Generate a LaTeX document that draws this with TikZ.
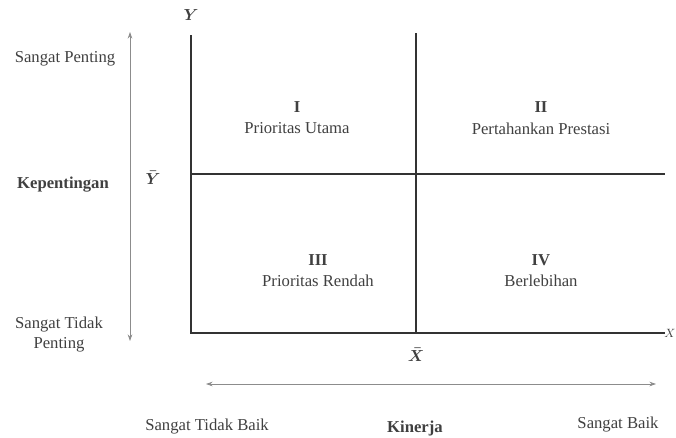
\documentclass[tikz,border=0pt]{standalone}
\usepackage{fontspec}
\setmainfont{Liberation Serif}
\tikzset{every picture/.style={line width=0.75pt}}
\tikzset{
  axisline/.style={draw=black!80, line width=1.8pt},
  scalearrow/.style={draw=black!45, line width=0.6pt, {Stealth[length=5pt,width=3.5pt]}-{Stealth[length=5pt,width=3.5pt]}},
  plaintext/.style={inner sep=0.75pt, font=\fontsize{12.5}{15}\selectfont, text=black!75},
  quadnum/.style={plaintext, font=\fontsize{12.5}{15}\selectfont\bfseries},
  axislabel/.style={plaintext, font=\fontsize{12.5}{15}\selectfont\boldmath},
}
\usetikzlibrary{arrows.meta}

\begin{document}
\begin{tikzpicture}[x=0.75pt,y=0.75pt,yscale=-1,xscale=1]
\useasboundingbox (0,0) rectangle (676,437);

%Coordinates of the axes
\coordinate (origin) at (191,333);
\coordinate (ytop) at (191,35);
\coordinate (xend) at (665,333);
\coordinate (midtop) at (416,33);
\coordinate (midbot) at (416,333);
\coordinate (midleft) at (191,174);
\coordinate (midright) at (665,174);

%Straight Lines: axes and quadrant lines
\draw [axisline] (ytop) -- (origin) -- (xend) ;
\draw [axisline] (midtop) -- (midbot) ;
\draw [axisline] (midleft) -- (midright) ;

%Scale arrows
\coordinate (lefttop) at (130,32);
\coordinate (leftbot) at (130,341);
\coordinate (botleft) at (206,384);
\coordinate (botright) at (656,384);
\draw [scalearrow] (lefttop) -- (leftbot) ;
\draw [scalearrow] (botleft) -- (botright) ;

% Axis labels
\node (ylab) at (191,15) [axislabel] {$Y$};
\node (ybar) at (153,178) [axislabel] {$\bar{Y}$};
\node (xbar) at (416,355) [axislabel] {$\bar{X}$};
\node (xlab) at (676,333) [plaintext, anchor=east, inner sep=0pt, font=\fontsize{9}{11}\selectfont] {$X$};

% Text Node
\node (pent) at (65,59) [plaintext] {Sangat Penting};
% Text Node
\node (kep) at (63,185) [quadnum] {Kepentingan};
% Text Node
\node (tpent) at (59,335) [plaintext, align=center] {Sangat Tidak\\Penting};
% Text Node
\node (tbaik) at (207,427) [plaintext] {Sangat Tidak Baik};
% Text Node
\node (kin) at (415,428) [quadnum] {Kinerja};
% Text Node
\node (baik) at (618,425) [plaintext] {Sangat Baik};

% Quadrant labels
\node (q1) at (297,107) [quadnum] {I};
\node (q1t) at (297,128) [plaintext] {Prioritas Utama};
\node (q2) at (541,107) [quadnum] {II};
\node (q2t) at (541,129) [plaintext] {Pertahankan Prestasi};
\node (q3) at (318,260) [quadnum] {III};
\node (q3t) at (318,281) [plaintext] {Prioritas Rendah};
\node (q4) at (541,260) [quadnum] {IV};
\node (q4t) at (541,281) [plaintext] {Berlebihan};

\end{tikzpicture}
\end{document}
